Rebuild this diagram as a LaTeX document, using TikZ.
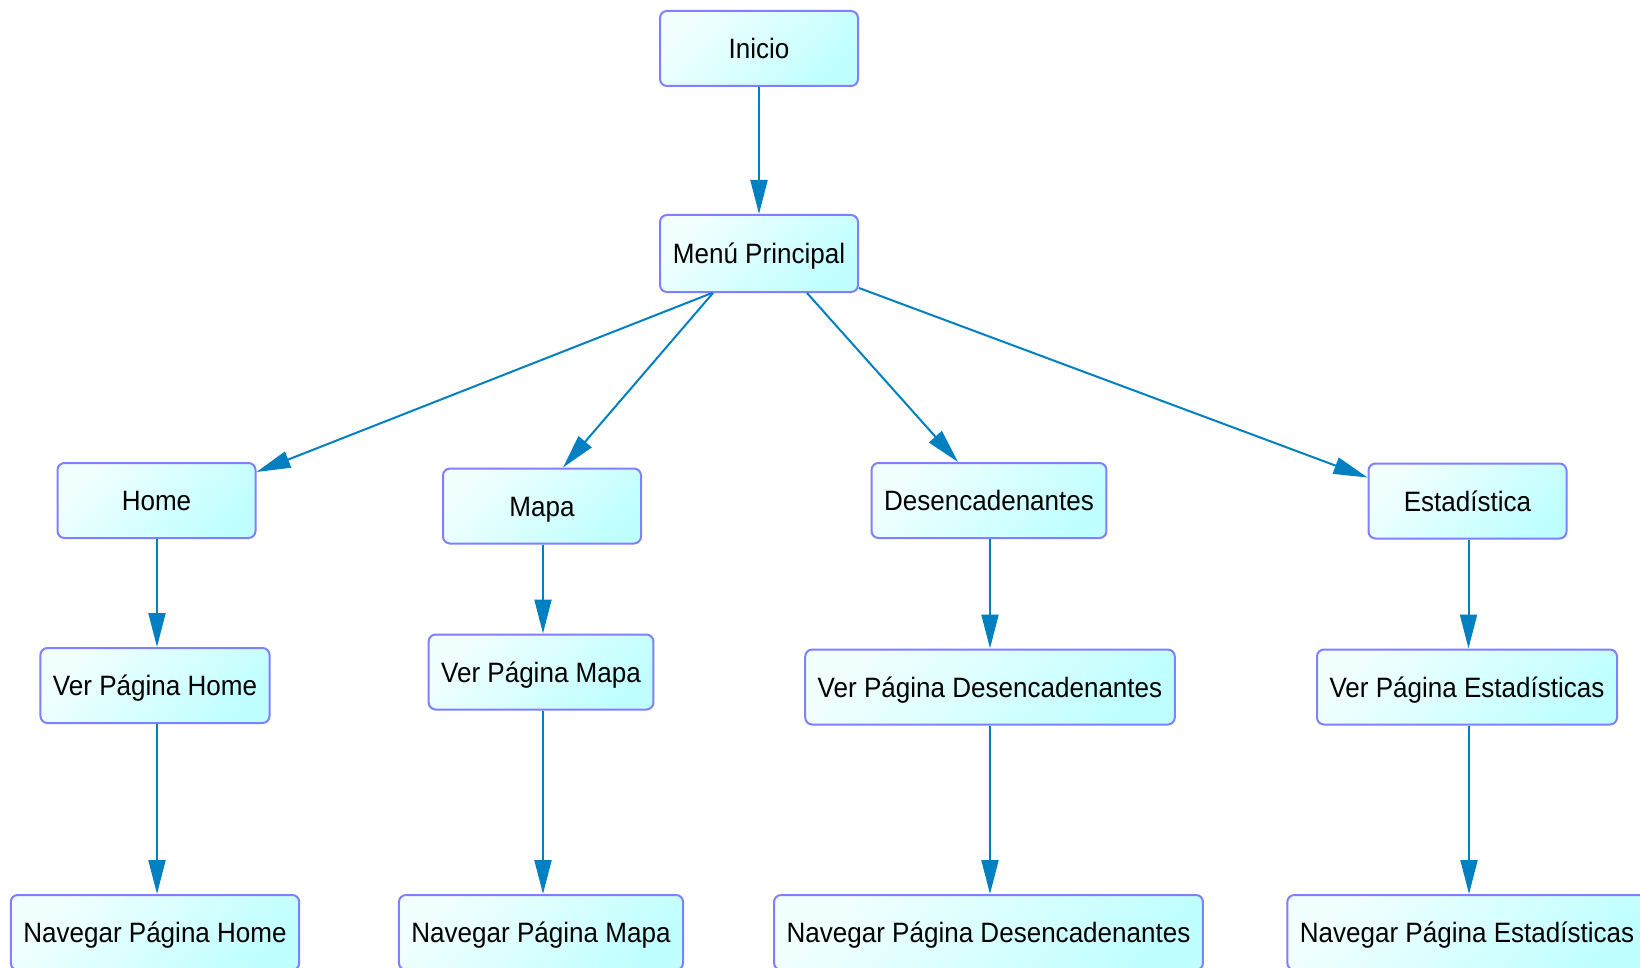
\documentclass[tikz,border=0pt]{standalone}
\usepackage{fontspec}
\setmainfont[FakeStretch=0.93]{Liberation Sans}
\usetikzlibrary{arrows.meta}

\definecolor{boxline}{RGB}{128,128,255}
\definecolor{boxlight}{RGB}{242,255,255}
\definecolor{boxcyan}{RGB}{192,255,255}
\definecolor{flowblue}{RGB}{0,128,192}

\tikzset{
  pagebox/.style={draw=boxline, line width=2pt, rounded corners=7pt,
    top color=boxlight, bottom color=boxcyan, shading angle=45,
    minimum width=198pt, minimum height=75pt, inner xsep=12.5pt,
    text height=20pt, text depth=0pt},
  flow/.style={draw=flowblue, line width=2pt,
    -{Triangle[length=34pt,width=17pt]}}
}

\begin{document}
\begin{tikzpicture}[x=1pt,y=-1pt,font=\fontsize{28}{34}\selectfont]

\useasboundingbox (0,0) rectangle (1640,968);

\node [pagebox] (inicio) at (759,48.5) {Inicio};
\node [pagebox, minimum height=77pt] (menu) at (759,253.5) {Menú Principal};

\node [pagebox] (home) at (156.5,500.5) {Home};
\node [pagebox] (mapa) at (542,506) {Mapa};
\node [pagebox] (desen) at (989,500.5) {Desencadenantes};
\node [pagebox] (estad) at (1467.5,501) {Estadística};

\node [pagebox] (verhome) at (155,685.5) {Ver Página Home};
\node [pagebox] (vermapa) at (541,672) {Ver Página Mapa};
\node [pagebox] (verdesen) at (990,687) {Ver Página Desencadenantes};
\node [pagebox] (verestad) at (1467,687) {Ver Página Estadísticas};

\node [pagebox] (navhome) at (155,932.5) {Navegar Página Home};
\node [pagebox] (navmapa) at (541,932.5) {Navegar Página Mapa};
\node [pagebox] (navdesen) at (988.5,932.5) {Navegar Página Desencadenantes};
\node [pagebox] (navestad) at (1467,932.5) {Navegar Página Estadísticas};

\draw [flow] (inicio.south) -- (menu.north);

% menu to the four pages
\draw [flow] ([xshift=-47pt]menu.south) -- ([yshift=-10pt]home.north east);
\draw [flow] ([xshift=-46pt]menu.south) -- ([xshift=21pt]mapa.north);
\draw [flow] ([xshift=48pt]menu.south) -- ([xshift=-31pt]desen.north);
\draw [flow] ([yshift=5pt]menu.south east) -- ([yshift=-15pt]estad.north west);

\draw [flow] ([xshift=0.5pt]home.south) -- ([xshift=0.5pt]home.south |- verhome.north);
\draw [flow] ([xshift=1pt]mapa.south) -- ([xshift=1pt]mapa.south |- vermapa.north);
\draw [flow] ([xshift=1pt]desen.south) -- ([xshift=1pt]desen.south |- verdesen.north);
\draw [flow] ([xshift=1pt]estad.south) -- ([xshift=1pt]estad.south |- verestad.north);

\draw [flow] ([xshift=2pt]verhome.south) -- ([xshift=2pt]verhome.south |- navhome.north);
\draw [flow] ([xshift=2pt]vermapa.south) -- ([xshift=2pt]vermapa.south |- navmapa.north);
\draw [flow] (verdesen.south) -- (verdesen.south |- navdesen.north);
\draw [flow] ([xshift=2pt]verestad.south) -- ([xshift=2pt]verestad.south |- navestad.north);

\end{tikzpicture}
\end{document}
